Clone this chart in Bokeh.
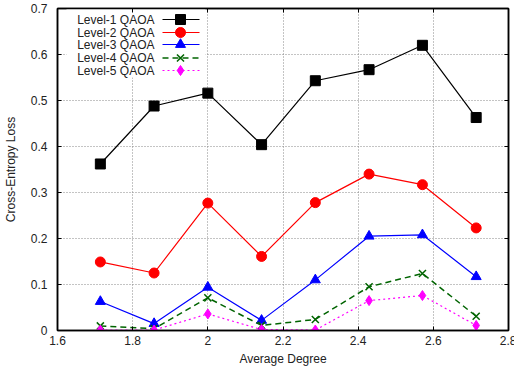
from bokeh.plotting import figure
from bokeh.models import LinearAxis, Range1d, FixedTicker
from bokeh.models.formatters import CustomJSTickFormatter
from bokeh.core.properties import value
from bokeh.embed import file_html
from bokeh.resources import INLINE

# ---- data ----
avg_degree = [1.714, 1.857, 2.0, 2.143, 2.286, 2.429, 2.571, 2.714]
level1 = [0.362, 0.488, 0.516, 0.404, 0.543, 0.567, 0.620, 0.463]
level2 = [0.149, 0.125, 0.277, 0.161, 0.278, 0.340, 0.317, 0.223]
level3 = [0.063, 0.015, 0.094, 0.022, 0.110, 0.205, 0.208, 0.117]
level4 = [0.010, 0.004, 0.071, 0.011, 0.024, 0.095, 0.124, 0.031]
level5 = [0.001, 0.001, 0.036, 0.002, 0.001, 0.065, 0.076, 0.011]
series_names = ["Level-1 QAOA", "Level-2 QAOA", "Level-3 QAOA", "Level-4 QAOA", "Level-5 QAOA"]
x_ticks = [1.6, 1.8, 2.0, 2.2, 2.4, 2.6, 2.8]
y_ticks = [0, 0.1, 0.2, 0.3, 0.4, 0.5, 0.6, 0.7]

FONT = "Liberation Sans"
X0, X1, Y0, Y1 = 1.6, 2.8, 0.0, 0.7
FW, FH = 451, 322

p = figure(frame_width=FW, frame_height=FH, output_backend="svg", toolbar_location=None,
           x_range=Range1d(X0, X1), y_range=Range1d(Y0, Y1),
           min_border_left=55, min_border_right=8, min_border_top=8, min_border_bottom=43,
           x_axis_label="Average Degree", y_axis_label="Cross-Entropy Loss")
p.background_fill_color = "white"
p.border_fill_color = "white"
p.outline_line_color = "black"
p.outline_line_width = 1.5

fmt_code = "return (Math.round(tick*10)/10).toString();"
for ax, ticks in ((p.xaxis[0], x_ticks), (p.yaxis[0], y_ticks)):
    ax.ticker = FixedTicker(ticks=ticks)
    ax.formatter = CustomJSTickFormatter(code=fmt_code)
    ax.minor_tick_line_color = None
    ax.major_tick_in = 4
    ax.major_tick_out = 0
    ax.axis_line_color = "black"
    ax.axis_line_width = 1.5
    ax.major_label_text_font = FONT
    ax.major_label_text_font_size = "12px"
    ax.major_label_text_color = "#222222"
    ax.axis_label_text_font = FONT
    ax.axis_label_text_font_size = "12px"
    ax.axis_label_text_font_style = "normal"
    ax.axis_label_text_color = "#222222"
p.xaxis[0].major_label_standoff = 5
p.xaxis[0].axis_label_standoff = 4
p.yaxis[0].major_label_standoff = 10
p.yaxis[0].axis_label_standoff = 10

for g, ticks in ((p.xgrid[0], x_ticks), (p.ygrid[0], y_ticks)):
    g.ticker = FixedTicker(ticks=ticks)
    g.grid_line_color = "#888888"
    g.grid_line_dash = "1 2"
    g.grid_line_width = 1

# ---- legend (manual, gnuplot style: text then sample) ----
def fx(px):
    return X0 + px / FW * (X1 - X0)

def fy(py):
    return Y1 - py / FH * (Y1 - Y0)

p.quad(left=fx(9), right=fx(148), top=fy(0), bottom=fy(69), fill_color="white", line_color=None)

colors = ["black", "red", "blue", "#006400", "magenta"]
dashes = ["solid", "solid", "solid", "6 4", "2 3"]
markers = ["square", "circle", "triangle", "x", "diamond"]
sizes = [10, 10, 10, 10, 10]
data = [level1, level2, level3, level4, level5]
row_py = [11, 24, 36, 49.5, 62]

for name, col, dash, mk, sz, ys, rp in zip(series_names, colors, dashes, markers, sizes, data, row_py):
    lw = 1.5 if dash == "6 4" else 1.2
    p.line(avg_degree, ys, line_color=col, line_width=lw, line_dash=dash)
    if mk == "x":
        p.scatter(avg_degree, ys, marker=mk, size=sz, line_color=col, line_width=1.5)
    else:
        p.scatter(avg_degree, ys, marker=mk, size=sz, fill_color=col, line_color=col)
    p.text(x=[fx(97)], y=[fy(rp)], text=[name], text_align="right", text_baseline="middle",
           text_font=value(FONT), text_font_size="12px", text_color="#222222")
    p.line([fx(105), fx(142)], [fy(rp), fy(rp)], line_color=col, line_width=lw, line_dash=dash)
    if mk == "x":
        p.scatter([fx(123)], [fy(rp)], marker=mk, size=sz, line_color=col, line_width=1.5)
    else:
        p.scatter([fx(123)], [fy(rp)], marker=mk, size=sz, fill_color=col, line_color=col)

# mirrored tick axes (top/right), no labels
blank = CustomJSTickFormatter(code="return '';")
top = LinearAxis(ticker=FixedTicker(ticks=x_ticks), major_tick_in=4, major_tick_out=0,
                 minor_tick_line_color=None, formatter=blank,
                 major_label_standoff=0, axis_line_color="black", axis_line_width=1.5)
right = LinearAxis(ticker=FixedTicker(ticks=y_ticks), major_tick_in=4, major_tick_out=0,
                   minor_tick_line_color=None, formatter=CustomJSTickFormatter(code="return '';"),
                   major_label_standoff=0, axis_line_color="black", axis_line_width=1.5)
p.add_layout(top, "above")
p.add_layout(right, "right")

open("out.html", "w").write(file_html(p, INLINE))
